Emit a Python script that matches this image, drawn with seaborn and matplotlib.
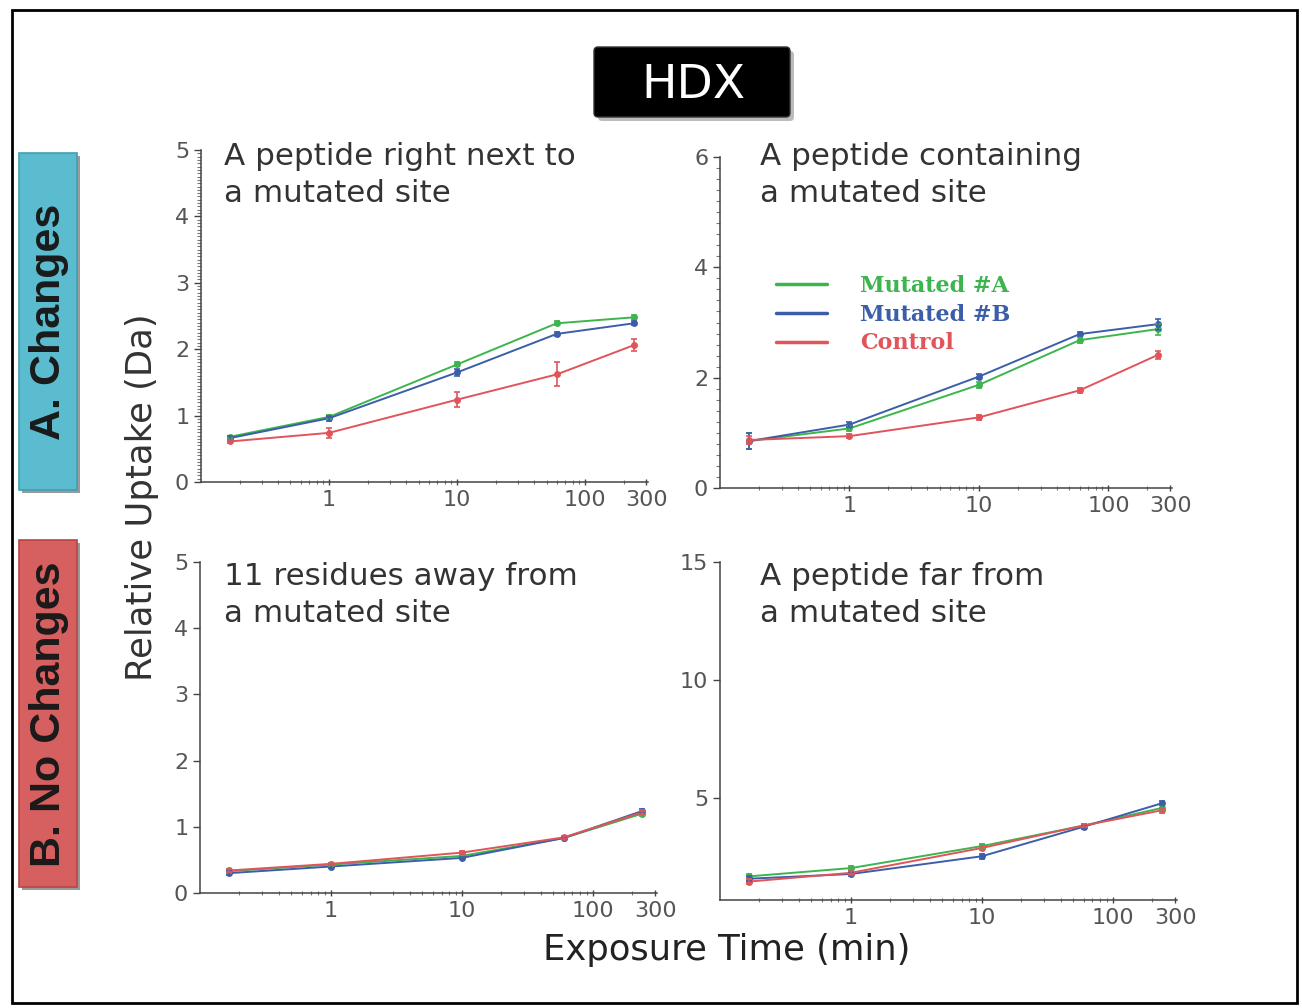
import numpy as np
import pandas as pd
import matplotlib
matplotlib.use("Agg")
import matplotlib.pyplot as plt
import seaborn as sns
from matplotlib.patches import Rectangle, FancyBboxPatch
from matplotlib.lines import Line2D
from matplotlib.ticker import MultipleLocator, NullFormatter, NullLocator, LogLocator

sns.set_theme(style="ticks")
plt.rcParams["font.family"] = ["DejaVu Sans"]

W, H = 1302, 1008

# Exposure times (min) and samples
times = [0.167, 1, 10, 60, 240]
samples = ["Mutated #A", "Mutated #B", "Control"]
colors = {"Mutated #A": "#3db54e", "Mutated #B": "#3c5ea8", "Control": "#e0545a"}

# A peptide right next to a mutated site
next_a = [0.68, 0.98, 1.77, 2.39, 2.48]
next_b = [0.66, 0.96, 1.65, 2.23, 2.39]
next_c = [0.61, 0.74, 1.24, 1.62, 2.06]
next_a_err = [0.02, 0.03, 0.03, 0.03, 0.03]
next_b_err = [0.03, 0.04, 0.05, 0.03, 0.03]
next_c_err = [0.03, 0.08, 0.11, 0.18, 0.09]

# A peptide containing a mutated site
cont_a = [0.85, 1.08, 1.87, 2.68, 2.88]
cont_b = [0.85, 1.15, 2.02, 2.79, 2.97]
cont_c = [0.87, 0.94, 1.28, 1.77, 2.41]
cont_a_err = [0.15, 0.05, 0.05, 0.05, 0.10]
cont_b_err = [0.15, 0.04, 0.04, 0.04, 0.10]
cont_c_err = [0.08, 0.04, 0.05, 0.04, 0.07]

# 11 residues away from a mutated site
away_a = [0.33, 0.43, 0.56, 0.83, 1.20]
away_b = [0.30, 0.40, 0.53, 0.83, 1.24]
away_c = [0.34, 0.44, 0.61, 0.84, 1.22]
away_err = [0.03, 0.02, 0.02, 0.02, 0.03]

# A peptide far from a mutated site
far_a = [1.70, 2.05, 2.98, 3.85, 4.60]
far_b = [1.60, 1.80, 2.55, 3.80, 4.80]
far_c = [1.48, 1.85, 2.90, 3.85, 4.50]
far_err = [0.10, 0.08, 0.10, 0.08, 0.10]

panel_titles = [
    "A peptide right next to\na mutated site",
    "A peptide containing\na mutated site",
    "11 residues away from\na mutated site",
    "A peptide far from\na mutated site",
]


def rect(l, t, r, b):
    return [l / W, 1 - b / H, (r - l) / W, (b - t) / H]


def draw_panel(ax, vals, errs):
    df = pd.DataFrame({
        "time": times * 3,
        "uptake": vals[0] + vals[1] + vals[2],
        "sample": np.repeat(samples, len(times)),
    })
    sns.lineplot(data=df, x="time", y="uptake", hue="sample", hue_order=samples,
                 palette=colors, marker="o", markersize=5, markeredgewidth=0,
                 linewidth=1.4, errorbar=None, legend=False, ax=ax)
    for s, v, e in zip(samples, vals, errs):
        ax.errorbar(times, v, yerr=e, fmt="none", ecolor=colors[s],
                    elinewidth=1.2, capsize=2.5, capthick=1.2)


def style_axes(ax, ylim, yticks, yminor):
    ax.set_xscale("log")
    ax.set_xlim(0.1, 310)
    ax.set_xticks([1, 10, 100, 300])
    ax.set_xticklabels(["1", "10", "100", "300"])
    ax.xaxis.set_minor_locator(LogLocator(base=10, subs=np.arange(2, 10), numticks=20))
    ax.xaxis.set_minor_formatter(NullFormatter())
    ax.set_ylim(*ylim)
    ax.set_yticks(yticks)
    if yminor:
        ax.yaxis.set_minor_locator(MultipleLocator(yminor))
    else:
        ax.yaxis.set_minor_locator(NullLocator())
    ax.set_xlabel("")
    ax.set_ylabel("")
    sns.despine(ax=ax)
    for sp in ax.spines.values():
        sp.set_color("#444444")
        sp.set_linewidth(1.1)
    ax.tick_params(axis="both", which="major", labelsize=16, labelcolor="#555555",
                   color="#444444", length=5, width=1)
    ax.tick_params(axis="both", which="minor", color="#777777", length=3, width=0.8)
    ax.tick_params(axis="x", which="both", direction="inout")
    ax.patch.set_alpha(0)


fig = plt.figure(figsize=(W / 100, H / 100), dpi=100)
fig.patch.set_facecolor("white")

# background layer in pixel coordinates
bg = fig.add_axes([0, 0, 1, 1])
bg.set_zorder(-1)
bg.set_xlim(0, W)
bg.set_ylim(H, 0)
bg.axis("off")

bg.add_patch(Rectangle((12, 10), 1285, 993, fill=False, edgecolor="black", lw=2))

# HDX title box
bg.add_patch(FancyBboxPatch((598, 51), 196, 70, boxstyle="round,pad=0,rounding_size=4",
                            facecolor="#bbbbbb", edgecolor="none"))
bg.add_patch(FancyBboxPatch((594, 47), 196, 70, boxstyle="round,pad=0,rounding_size=4",
                            facecolor="black", edgecolor="#333333", lw=1))
bg.text(693, 85, "HDX", color="white", fontsize=34, ha="center", va="center")

# side labels
side_font = ["Liberation Sans", "DejaVu Sans"]
bg.add_patch(Rectangle((22, 156), 58, 337, facecolor="#9a9a9a", edgecolor="none"))
bg.add_patch(Rectangle((19, 153), 58, 337, facecolor="#5bbccf", edgecolor="#3f9fb3", lw=1.2))
bg.text(49, 322, "A. Changes", rotation=90, ha="center", va="center",
        fontsize=31, fontweight="bold", color="#1a1a1a", family=side_font)
bg.add_patch(Rectangle((22, 543), 58, 347, facecolor="#9a9a9a", edgecolor="none"))
bg.add_patch(Rectangle((19, 540), 58, 347, facecolor="#d65f5f", edgecolor="#b84444", lw=1.2))
bg.text(49, 714, "B. No Changes", rotation=90, ha="center", va="center",
        fontsize=31, fontweight="bold", color="#1a1a1a", family=side_font)

# shared axis labels
bg.text(142, 497, "Relative Uptake (Da)", rotation=90, ha="center", va="center",
        fontsize=25.5, color="#333333")
bg.text(727, 950, "Exposure Time (min)", ha="center", va="center",
        fontsize=25.5, color="#222222")

ax_tl = fig.add_axes(rect(201, 150, 648, 482))
ax_tr = fig.add_axes(rect(720, 157, 1172, 488))
ax_bl = fig.add_axes(rect(200, 562, 657, 893))
ax_br = fig.add_axes(rect(720, 562, 1177, 900))

draw_panel(ax_tl, [next_a, next_b, next_c], [next_a_err, next_b_err, next_c_err])
style_axes(ax_tl, (0, 5), [0, 1, 2, 3, 4, 5], 0.05)

draw_panel(ax_tr, [cont_a, cont_b, cont_c], [cont_a_err, cont_b_err, cont_c_err])
style_axes(ax_tr, (0, 6), [0, 2, 4, 6], 0.2)

draw_panel(ax_bl, [away_a, away_b, away_c], [away_err, away_err, away_err])
style_axes(ax_bl, (0, 5), [0, 1, 2, 3, 4, 5], None)

draw_panel(ax_br, [far_a, far_b, far_c], [far_err, far_err, far_err])
style_axes(ax_br, (0.7, 15), [5, 10, 15], None)

# panel captions
for (x, y), txt in zip([(224, 142), (760, 142), (224, 562), (760, 562)], panel_titles):
    bg.text(x, y, txt, ha="left", va="top", fontsize=22.3, color="#333333",
            linespacing=1.33)

# legend
handles = [Line2D([0], [0], color=colors[s], lw=2.5) for s in samples]
ax_tr.legend(handles, samples, loc="upper left", bbox_to_anchor=(776 / W, 1 - 275 / H),
             bbox_transform=fig.transFigure, frameon=False, borderaxespad=0, borderpad=0,
             handlelength=2.3, handletextpad=1.5, labelspacing=0.3,
             labelcolor=[colors[s] for s in samples],
             prop={"family": "DejaVu Serif", "weight": "bold", "size": 16})

fig.savefig("out.png", dpi=100)
